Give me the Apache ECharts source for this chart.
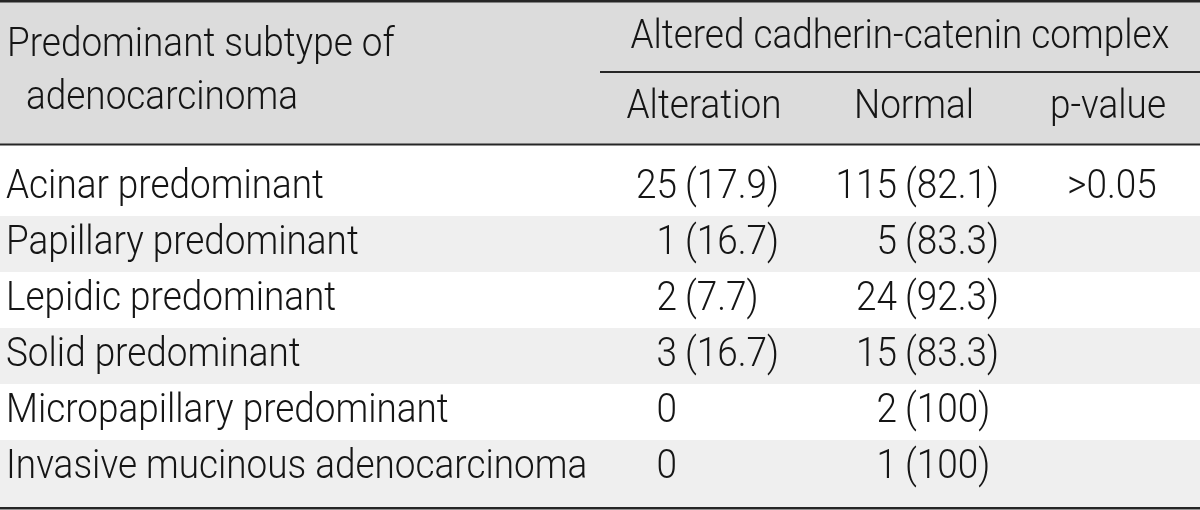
<!DOCTYPE html>
<html><head><meta charset="utf-8">
<script src="https://cdn.jsdelivr.net/npm/echarts@6/dist/echarts.min.js"></script>
<style>html,body{margin:0;padding:0;background:#fff}#c{width:1200px;height:510px}</style>
</head><body><div id="c"></div>
<script>
// ---- data ----
const subtypes = ['Acinar predominant','Papillary predominant','Lepidic predominant','Solid predominant','Micropapillary predominant','Invasive mucinous adenocarcinoma'];
const alterationCount = [25, 1, 2, 3, 0, 0];
const alterationPct = [17.9, 16.7, 7.7, 16.7, null, null];
const normalCount = [115, 5, 24, 15, 2, 1];
const normalPct = [82.1, 83.3, 92.3, 83.3, 100, 100];
const pValues = ['>0.05', '', '', '', '', ''];
const stubHeader = ['Predominant subtype of', 'adenocarcinoma'];
const spannerHeader = 'Altered cadherin-catenin complex';
const columnHeaders = ['Alteration', 'Normal', 'p-value'];

// ---- style ----
const FONT = {fontFamily: 'Roboto, "Liberation Sans", Arial, sans-serif', fontWeight: 300, fontSize: 41, fill: '#151515'};
const SX = 0.9;
const RULE = '#262626';
function txt(x, y, text, align, z) {
  return {type: 'text', x: x, y: y, scaleX: SX, z: z || 0,
    style: Object.assign({text: text, align: align, verticalAlign: 'middle'}, FONT)};
}
function rule(x, y, w, h) {
  return {type: 'rect', z: 100, shape: {x: x, y: y, width: w, height: h}, style: {fill: RULE}};
}

const chart = echarts.init(document.getElementById('c'), null, {renderer: 'canvas'});
chart.setOption({
  animation: false,
  backgroundColor: '#ffffff',
  grid: {left: 681, right: 79, top: 160, bottom: 14},
  xAxis: {type: 'category', data: columnHeaders, boundaryGap: false, show: false},
  yAxis: {type: 'category', data: subtypes, inverse: true, show: false},
  graphic: [
    {type: 'rect', z: 1, shape: {x: 0, y: 0, width: 1200, height: 145}, style: {fill: '#dcdcdc'}},
    rule(0, 0, 1200, 2.5),
    rule(600, 71, 600, 2),
    rule(0, 143.5, 1200, 2),
    rule(0, 507, 1200, 2.5),
    txt(7, 46, stubHeader[0], 'left', 50),
    txt(26, 99, stubHeader[1], 'left', 50),
    txt(900, 38, spannerHeader, 'center', 50),
    txt(704, 108, columnHeaders[0], 'center', 50),
    txt(914, 108, columnHeaders[1], 'center', 50),
    txt(1108, 108, columnHeaders[2], 'center', 50)
  ],
  series: [{
    type: 'custom',
    coordinateSystem: 'cartesian2d',
    silent: true,
    clip: false,
    data: subtypes.map((s, i) => [0, i]),
    encode: {x: 0, y: 1},
    renderItem: function (params, api) {
      const i = api.value(1);
      const pa = api.coord([0, i]);
      const y = pa[1];
      const xa = pa[0];
      const xn = api.coord([1, i])[0];
      const xp = api.coord([2, i])[0];
      const bh = api.coord([0, 1])[1] - api.coord([0, 0])[1];
      const W = api.getWidth();
      const children = [];
      if (i % 2 === 1) {
        const extra = (i === subtypes.length - 1) ? 11 : 0;
        children.push({type: 'rect', shape: {x: 0, y: y - bh / 2, width: W, height: bh + extra}, style: {fill: '#efefef'}});
      }
      children.push(txt(6, y, subtypes[i], 'left'));
      children.push(txt(xa - 4, y, String(alterationCount[i]), 'right'));
      if (alterationPct[i] != null) children.push(txt(xa + 4, y, '(' + alterationPct[i] + ')', 'left'));
      children.push(txt(xn - 4, y, String(normalCount[i]), 'right'));
      if (normalPct[i] != null) children.push(txt(xn + 4, y, '(' + normalPct[i] + ')', 'left'));
      if (pValues[i]) children.push(txt(xp - 9, y, pValues[i], 'center'));
      return {type: 'group', children: children};
    }
  }]
});
</script>
</body></html>
